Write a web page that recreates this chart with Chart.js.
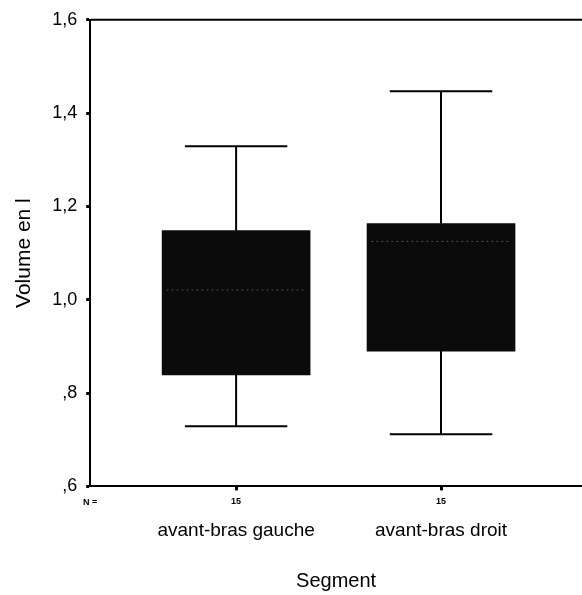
<!DOCTYPE html>
<html>
<head>
<meta charset="utf-8">
<script src="https://cdn.jsdelivr.net/npm/chart.js@4.4.1/dist/chart.umd.min.js"></script>
<style>
  html, body { margin: 0; padding: 0; background: #ffffff; }
  #wrap { width: 582px; height: 595px; }
</style>
</head>
<body>
<div id="wrap"><canvas id="box-chart" width="582" height="595"></canvas></div>
<script>
// Box plot values (litres)
const CATEGORIES = ["avant-bras gauche", "avant-bras droit"];
const POSITIONS = [1, 2];
const COUNTS = [15, 15];
const MINS = [0.729, 0.712];
const Q1S = [0.839, 0.890];
const MEDIANS = [1.021, 1.125];
const Q3S = [1.148, 1.163];
const MAXS = [1.329, 1.447];

const Y_MIN = 0.6;
const Y_MAX = 1.6;
const X_MIN = 0.288;
const X_MAX = 2.688;
const CAP_HALF = 0.25;

const FONT = "'Liberation Sans', Arial, sans-serif";

const formatComma = (v) => v.toFixed(1).replace(".", ",").replace(/^0/, "");

// whisker segments (stems + caps), separated by gaps
const whiskerPoints = [];
POSITIONS.forEach((p, i) => {
  whiskerPoints.push({ x: p, y: MINS[i] }, { x: p, y: Q1S[i] }, { x: p, y: null });
  whiskerPoints.push({ x: p, y: Q3S[i] }, { x: p, y: MAXS[i] }, { x: p, y: null });
  whiskerPoints.push({ x: p - CAP_HALF, y: MINS[i] }, { x: p + CAP_HALF, y: MINS[i] }, { x: p, y: null });
  whiskerPoints.push({ x: p - CAP_HALF, y: MAXS[i] }, { x: p + CAP_HALF, y: MAXS[i] }, { x: p, y: null });
});

const medianPoints = [];
POSITIONS.forEach((p, i) => {
  medianPoints.push({ x: p - 0.34, y: MEDIANS[i] }, { x: p + 0.34, y: MEDIANS[i] }, { x: p, y: null });
});

// frame line at top + "N =" marker
const framePlugin = {
  id: "frame",
  afterDraw(chart) {
    const { ctx, chartArea } = chart;
    ctx.save();
    ctx.strokeStyle = "#000";
    ctx.lineWidth = 2;
    ctx.beginPath();
    ctx.moveTo(chartArea.left, chartArea.top);
    ctx.lineTo(chartArea.right, chartArea.top);
    ctx.stroke();
    ctx.fillStyle = "#000";
    ctx.font = "bold 9px " + FONT;
    ctx.textAlign = "center";
    ctx.textBaseline = "middle";
    ctx.fillText("N =", chartArea.left, chartArea.bottom + 16);
    ctx.restore();
  },
};

const config = {
  type: "bar",
  data: {
    datasets: [
      {
        type: "line",
        data: medianPoints,
        borderColor: "rgba(110,110,110,0.7)",
        borderWidth: 1,
        borderDash: [2, 3],
        pointRadius: 0,
        spanGaps: false,
        order: 0,
      },
      {
        type: "bar",
        data: POSITIONS.map((p, i) => ({ x: p, y: [Q1S[i], Q3S[i]] })),
        backgroundColor: "#0b0b0b",
        borderWidth: 0,
        borderSkipped: false,
        barThickness: 148,
        order: 1,
      },
      {
        type: "line",
        data: whiskerPoints,
        borderColor: "#000",
        borderWidth: 2,
        pointRadius: 0,
        spanGaps: false,
        order: 2,
      },
    ],
  },
  options: {
    responsive: false,
    animation: false,
    layout: { padding: { top: 18, right: 0, left: 12, bottom: 2 } },
    plugins: {
      legend: { display: false },
      tooltip: { enabled: false },
    },
    scales: {
      x: {
        type: "linear",
        position: "bottom",
        offset: false,
        min: X_MIN,
        max: X_MAX,
        afterBuildTicks: (axis) => {
          axis.ticks = POSITIONS.map((p) => ({ value: p }));
        },
        ticks: {
          autoSkip: false,
          maxRotation: 0,
          padding: 6,
          color: "#000",
          font: { family: FONT, size: 9, weight: "bold" },
          callback: (v) => {
            const i = POSITIONS.indexOf(v);
            return i >= 0 ? String(COUNTS[i]) : "";
          },
        },
        grid: { offset: false, drawOnChartArea: false, tickLength: 4, tickWidth: 3, color: "#000" },
        border: { color: "#000", width: 2 },
      },
      x2: {
        type: "linear",
        position: "bottom",
        offset: false,
        min: X_MIN,
        max: X_MAX,
        afterBuildTicks: (axis) => {
          axis.ticks = POSITIONS.map((p) => ({ value: p }));
        },
        ticks: {
          autoSkip: false,
          maxRotation: 0,
          padding: 6,
          color: "#000",
          font: { family: FONT, size: 19 },
          callback: (v) => {
            const i = POSITIONS.indexOf(v);
            return i >= 0 ? CATEGORIES[i] : "";
          },
        },
        grid: { display: false, tickLength: 0 },
        border: { display: false },
        title: {
          display: true,
          text: "Segment",
          color: "#000",
          padding: { top: 21, bottom: 0 },
          font: { family: FONT, size: 20 },
        },
      },
      y: {
        min: Y_MIN,
        max: Y_MAX,
        ticks: {
          stepSize: 0.2,
          padding: 9,
          color: "#000",
          font: { family: FONT, size: 18 },
          callback: (v) => formatComma(v),
        },
        grid: { drawOnChartArea: false, tickLength: 4, tickWidth: 3, color: "#000" },
        border: { color: "#000", width: 2 },
        title: {
          display: true,
          text: "Volume en l",
          color: "#000",
          padding: { top: 0, bottom: 6 },
          font: { family: FONT, size: 21 },
        },
      },
    },
  },
  plugins: [framePlugin],
};

new Chart(document.getElementById("box-chart"), config);
</script>
</body>
</html>
